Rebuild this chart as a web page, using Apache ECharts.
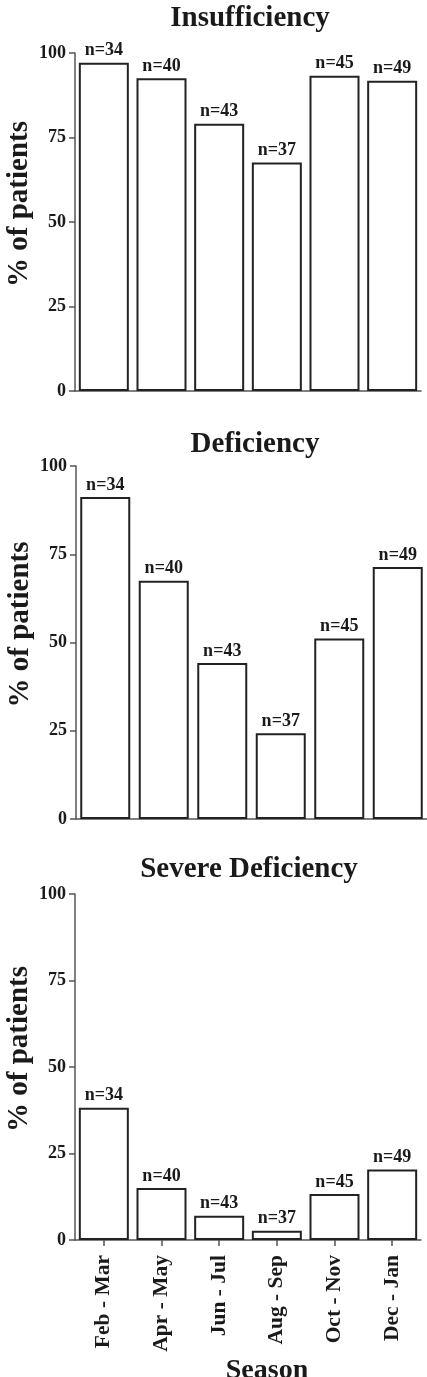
<!DOCTYPE html>
<html>
<head>
<meta charset="utf-8">
<title>Vitamin D status by season</title>
<script src="https://cdn.jsdelivr.net/npm/echarts@6/dist/echarts.min.js"></script>
<style>
  html, body { margin: 0; padding: 0; background: #fff; }
  #chart { width: 427px; height: 1377px; }
</style>
</head>
<body>
<div id="chart"></div>
<script>
// data (% of patients per season)
let seasons = ['Feb - Mar', 'Apr - May', 'Jun - Jul', 'Aug - Sep', 'Oct - Nov', 'Dec - Jan'];
let nCounts = [34, 40, 43, 37, 45, 49];
let insufficiency = [97.1, 92.5, 79.1, 67.6, 93.3, 91.8];
let deficiency = [91.2, 67.5, 44.2, 24.3, 51.1, 71.4];
let severeDeficiency = [38.2, 15.0, 7.0, 2.7, 13.3, 20.4];
let yTicks = [0, 25, 50, 75, 100];

let panelTitles = ['Insufficiency', 'Deficiency', 'Severe Deficiency'];
let panelValues = [insufficiency, deficiency, severeDeficiency];

let serif = '"Liberation Serif", "Times New Roman", serif';
let ink = '#1a1a1a';

// one grid per panel, stacked (fixed boxes, no auto shrink for labels)
let grids = [
  { left: 75, top: 53, width: 346, height: 338, outerBoundsMode: 'none' },
  { left: 76, top: 466, width: 351, height: 353, outerBoundsMode: 'none' },
  { left: 75, top: 894, width: 346, height: 346, outerBoundsMode: 'none' }
];
let titlePos = [
  { left: 250, top: 4 },
  { left: 255, top: 430 },
  { left: 249, top: 855 }
];

let chart = echarts.init(document.getElementById('chart'));

let option = {
  animation: false,
  backgroundColor: '#fff',
  title: panelTitles.map((t, i) => ({
    text: t,
    left: titlePos[i].left,
    top: titlePos[i].top,
    textAlign: 'center',
    padding: 0,
    textStyle: { fontFamily: serif, fontWeight: 'bold', fontSize: 29, color: ink }
  })),
  grid: grids,
  xAxis: panelValues.map((v, i) => {
    let last = i === panelValues.length - 1;
    return {
      type: 'category',
      gridIndex: i,
      data: seasons,
      axisLine: { lineStyle: { color: '#555', width: 1.5 } },
      axisTick: { show: last, alignWithLabel: true, length: 6, lineStyle: { color: '#555', width: 1.5 } },
      axisLabel: {
        show: last,
        rotate: 90,
        margin: 15,
        interval: 0,
        fontFamily: serif,
        fontWeight: 'bold',
        fontSize: 21.5,
        color: ink
      },
      name: last ? 'Season' : '',
      nameLocation: 'middle',
      nameGap: 117,
      nameMoveOverlap: false,
      nameTextStyle: {
        fontFamily: serif, fontWeight: 'bold', fontSize: 28, color: ink,
        padding: [0, 0, 0, 38]
      }
    };
  }),
  yAxis: panelValues.map((v, i) => ({
    type: 'value',
    gridIndex: i,
    min: yTicks[0],
    max: yTicks[yTicks.length - 1],
    interval: 25,
    splitLine: { show: false },
    axisLine: { show: true, lineStyle: { color: '#555', width: 1.5 } },
    axisTick: { show: true, length: 6, lineStyle: { color: '#555', width: 1.5 } },
    axisLabel: {
      margin: 9,
      fontFamily: serif,
      fontWeight: 'bold',
      fontSize: 18,
      color: ink
    },
    name: '% of patients',
    nameLocation: 'middle',
    nameRotate: 90,
    nameGap: 41,
    nameMoveOverlap: false,
    nameTextStyle: {
      fontFamily: serif, fontWeight: 'bold', fontSize: 29, color: ink,
      padding: [0, 0, 0, 36]
    }
  })),
  series: panelValues.map((v, i) => ({
    name: panelTitles[i],
    type: 'bar',
    xAxisIndex: i,
    yAxisIndex: i,
    barWidth: 50,
    data: v,
    itemStyle: { color: '#fff', borderColor: '#222', borderWidth: 2 },
    label: {
      show: true,
      position: 'top',
      distance: 3,
      fontFamily: serif,
      fontWeight: 'bold',
      fontSize: 18,
      color: ink,
      formatter: function(d) {
        return 'n=' + nCounts[d.dataIndex];
      }
    }
  }))
};

chart.setOption(option);
</script>
</body>
</html>
